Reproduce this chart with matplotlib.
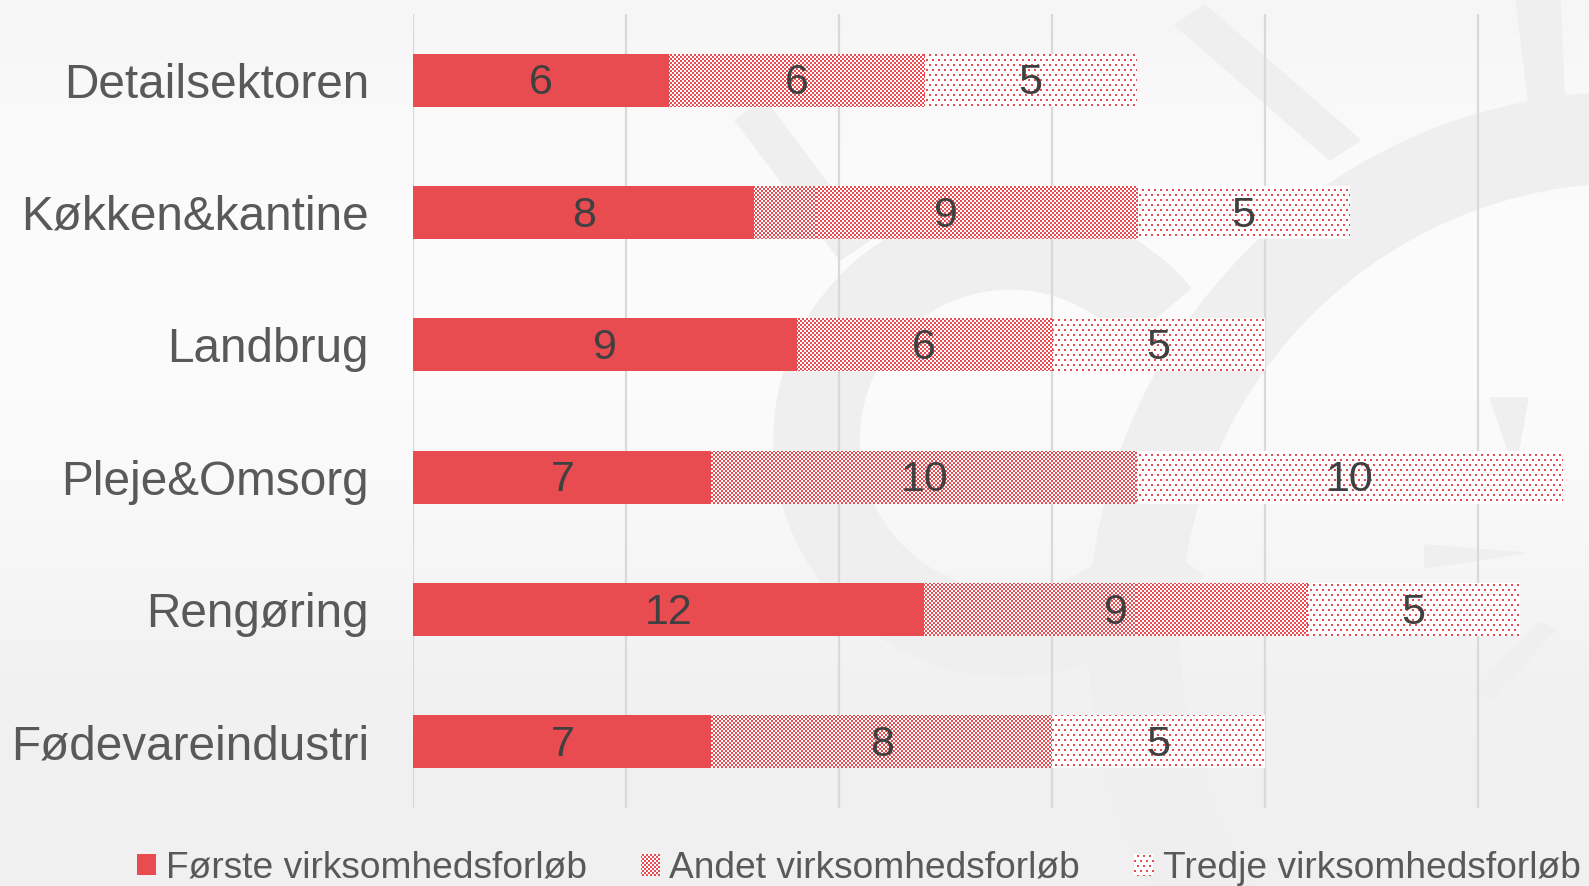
import numpy as np
import matplotlib
matplotlib.use("Agg")
import matplotlib.pyplot as plt
from matplotlib.patches import Patch, Wedge, Polygon

categories = ["Detailsektoren", "Køkken&kantine", "Landbrug",
              "Pleje&Omsorg", "Rengøring", "Fødevareindustri"]
series_names = ["Første virksomhedsforløb", "Andet virksomhedsforløb",
                "Tredje virksomhedsforløb"]
first = [6, 8, 9, 7, 12, 7]
second = [6, 9, 6, 10, 9, 8]
third = [5, 5, 5, 10, 5, 5]

W, H = 1589, 886
RED = "#E94C50"
RED_RGB = (233, 76, 80)

plt.rcParams["font.family"] = ["Liberation Sans", "DejaVu Sans"]

fig = plt.figure(figsize=(W / 100, H / 100), dpi=100)

# light gray background with a soft vertical gradient
t = np.linspace(0, 1, H)[:, None]
shade = 246 + 8 * np.sin(np.pi * np.clip(t * 1.3, 0, 1)) - 6 * t
bg = np.repeat(np.clip(shade, 0, 255), W, axis=1)
bg = np.dstack([bg, bg, bg]).astype(np.uint8)
fig.figimage(bg, zorder=-10)

# faint watermark logo (rough), coordinates in pixels from the top-left
wm = "#efefef"


def add_poly(pts):
    pts = [(x, H - y) for x, y in pts]
    fig.patches.append(Polygon(pts, closed=True, color=wm, transform=None, zorder=-5))


fig.patches.append(Wedge((1631, H - 634), 542, 75, 220, width=90, color=wm,
                         transform=None, zorder=-5))
fig.patches.append(Wedge((1010, H - 440), 236, 40, 325, width=85, color=wm,
                         transform=None, zorder=-5))
add_poly([(1175, 25), (1205, 5), (1360, 140), (1330, 160)])
add_poly([(1516, 0), (1560, 0), (1565, 113), (1530, 113)])
add_poly([(735, 120), (765, 100), (870, 240), (840, 260)])
add_poly([(1490, 398), (1528, 398), (1515, 470)])
add_poly([(1425, 545), (1525, 553), (1425, 568)])
add_poly([(1475, 690), (1490, 700), (1555, 630), (1540, 622)])


def texture(h, w, kind):
    yy, xx = np.mgrid[0:h, 0:w]
    if kind == "checker":
        mask = ((xx // 2) + (yy // 2)) % 2 == 0
    else:
        mask = ((yy % 10 < 2) & (xx % 6 < 2)) | (((yy - 5) % 10 < 2) & ((xx - 3) % 6 < 2))
    img = np.zeros((h, w, 4), dtype=np.uint8)
    img[..., 0], img[..., 1], img[..., 2] = RED_RGB
    img[..., 3] = np.where(mask, 255, 0)
    return img


left_px, top_px, bottom_px = 413.5, 14, 808
px_per_unit = 42.56
xmax = (W - left_px) / px_per_unit
ax = fig.add_axes([left_px / W, 1 - bottom_px / H, 1 - left_px / W, (bottom_px - top_px) / H])
ax.patch.set_alpha(0)

y = np.arange(len(categories))
first = np.array(first)
second = np.array(second)
third = np.array(third)

b1 = ax.barh(y, first, height=0.4, color=RED, zorder=2)
b2 = ax.barh(y, second, left=first, height=0.4, color="white", zorder=2)
b3 = ax.barh(y, third, left=first + second, height=0.4, color="white", zorder=2)

ylim = (len(categories) - 0.5, -0.5)
ax.set_xlim(0, xmax)
ax.set_ylim(*ylim)

# pixel textures for the patterned segments
fig.canvas.draw()
bb = ax.get_window_extent()
aw, ah = int(round(bb.width)), int(round(bb.height))
for bars, kind in [(b2, "checker"), (b3, "dots")]:
    tex = texture(ah, aw, kind)
    for bar in bars:
        im = ax.imshow(tex, extent=(0, xmax, ylim[0], ylim[1]), aspect="auto",
                       interpolation="nearest", zorder=2.5)
        im.set_clip_path(bar)
ax.set_xlim(0, xmax)
ax.set_ylim(*ylim)

for bars, vals in [(b1, first), (b2, second), (b3, third)]:
    anns = ax.bar_label(bars, labels=[str(v) for v in vals], label_type="center",
                        fontsize=31, color="#404040", zorder=4)
    for a in anns:
        a.xyann = (0, -2.2)

ax.set_xticks(np.arange(0, 26, 5))
ax.grid(axis="x", color="#d9d9d9", linewidth=1.6, zorder=0)
ax.tick_params(axis="x", length=0, labelbottom=False)
ax.set_yticks(y)
ax.set_yticklabels(categories, fontsize=34.4, color="#595959")
ax.tick_params(axis="y", length=0, pad=32)
for s in ax.spines.values():
    s.set_visible(False)

handles = [Patch(facecolor=RED, edgecolor="none"),
           Patch(facecolor="white", edgecolor="none"),
           Patch(facecolor="white", edgecolor="none")]
leg = fig.legend(handles, series_names, loc="center left",
                 bbox_to_anchor=(137 / W, 1 - 868 / H), ncol=3, frameon=False,
                 fontsize=26.7, labelcolor="#595959", handlelength=0.5,
                 handleheight=0.5, handletextpad=0.27, columnspacing=1.46,
                 borderpad=0, borderaxespad=0)

full_checker = texture(H, W, "checker")
full_dots = texture(H, W, "dots")
lp = leg.get_patches()
for patch, tex in [(lp[1], full_checker), (lp[2], full_dots)]:
    im = fig.figimage(tex, zorder=10)
    im.set_clip_path(patch)

fig.savefig("out.png", dpi=100)
